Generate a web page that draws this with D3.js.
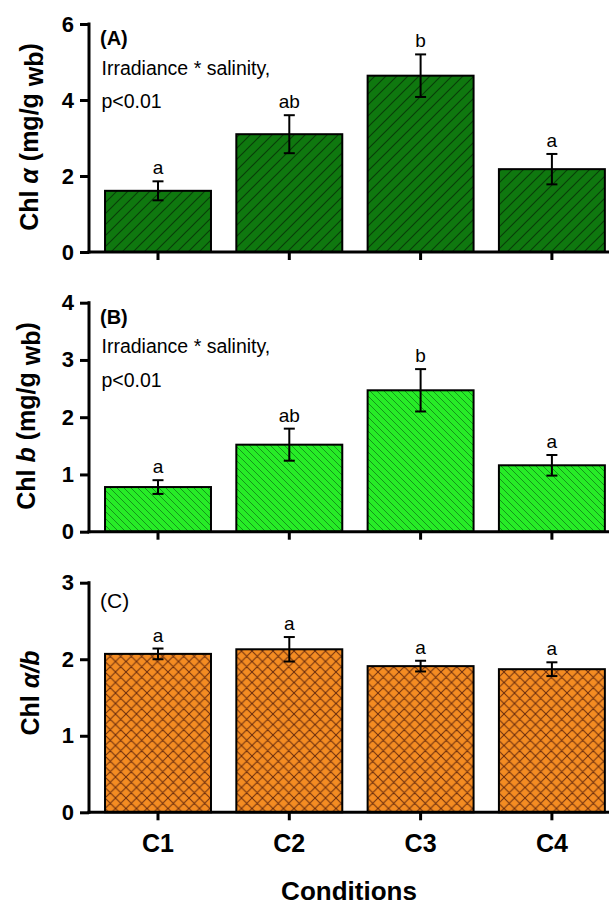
<!DOCTYPE html>
<html>
<head>
<meta charset="utf-8">
<script src="https://cdn.jsdelivr.net/npm/d3@7"></script>
<style>
  body { margin: 0; background: #fff; }
  svg { display: block; }
  text { font-family: Arial, "Liberation Sans", sans-serif; fill: #000; }
</style>
</head>
<body>
<div id="chart"></div>
<script>
var width = 609,
    height = 905;

// data
var categories = ["C1", "C2", "C3", "C4"];

var chlA = [1.61, 3.10, 4.64, 2.18];
var chlAErr = [0.25, 0.50, 0.56, 0.40];
var chlALetters = ["a", "ab", "b", "a"];

var chlB = [0.78, 1.52, 2.47, 1.16];
var chlBErr = [0.12, 0.28, 0.37, 0.18];
var chlBLetters = ["a", "ab", "b", "a"];

var chlRatio = [2.07, 2.13, 1.91, 1.87];
var chlRatioErr = [0.07, 0.16, 0.07, 0.09];
var chlRatioLetters = ["a", "a", "a", "a"];

var ticksA = [0, 2, 4, 6];
var ticksB = [0, 1, 2, 3, 4];
var ticksC = [0, 1, 2, 3];

var axisX = 89;

var panels = [
  { id: "A", vals: chlA, errs: chlAErr, letters: chlALetters, ticks: ticksA,
    top: 24, bottom: 252, fill: "url(#hatchA)", label: "(A)", bold: true, note: true,
    title: [["Chl ", ""], ["α", "italic"], [" (mg/g ", ""], ["wb", "sub"], [")", "up"]], titleX: 38, titleY: 137 },
  { id: "B", vals: chlB, errs: chlBErr, letters: chlBLetters, ticks: ticksB,
    top: 302.7, bottom: 531.7, fill: "url(#hatchB)", label: "(B)", bold: true, note: true,
    title: [["Chl ", ""], ["b", "italic"], [" (mg/g ", ""], ["wb", "sub"], [")", "up"]], titleX: 35, titleY: 416 },
  { id: "C", vals: chlRatio, errs: chlRatioErr, letters: chlRatioLetters, ticks: ticksC,
    top: 582.7, bottom: 812.3, fill: "url(#hatchC)", label: "(C)", bold: false, note: false,
    title: [["Chl ", ""], ["α/b", "italic"]], titleX: 39, titleY: 693 }
];

var svg = d3.select("#chart")
  .append("svg")
  .attr("width", width)
  .attr("height", height);

var defs = svg.append("defs");

function hatch(id, size, bg, fg, d, sw) {
  var p = defs.append("pattern")
    .attr("id", id)
    .attr("patternUnits", "userSpaceOnUse")
    .attr("width", size)
    .attr("height", size);
  p.append("rect").attr("width", size).attr("height", size).attr("fill", bg);
  p.append("path").attr("d", d).attr("stroke", fg).attr("stroke-width", sw).attr("fill", "none");
}

hatch("hatchA", 11, "#0f780f", "#073f07", "M-1,1 l2,-2 M0,11 l11,-11 M10,12 l2,-2", 1.2);
hatch("hatchB", 7, "#27ec27", "#14961a", "M-1,6 l2,2 M0,0 l7,7 M6,-1 l2,2", 1.0);
hatch("hatchC", 10.5, "#f48c22", "#6a2c0c",
  "M-1,1 l2,-2 M0,10.5 l10.5,-10.5 M9.5,11.5 l2,-2 M-1,9.5 l2,2 M0,0 l10.5,10.5 M9.5,-1 l2,2", 1.0);

var x = d3.scaleBand()
  .domain(categories)
  .range([92.35, 617.55])
  .paddingInner(0.193)
  .paddingOuter(0.0965);

panels.forEach(function(pn) {
  var y = d3.scaleLinear()
    .domain([d3.min(pn.ticks), d3.max(pn.ticks)])
    .range([pn.bottom, pn.top]);

  var g = svg.append("g").attr("class", "panel-" + pn.id);

  // bars
  g.selectAll(".bar")
    .data(pn.vals)
    .enter().append("rect")
      .attr("class", "bar")
      .attr("x", function(d, i) { return x(categories[i]); })
      .attr("y", function(d) { return y(d); })
      .attr("width", x.bandwidth())
      .attr("height", function(d) { return y(0) - y(d); })
      .attr("fill", pn.fill)
      .attr("stroke", "#000")
      .attr("stroke-width", 2);

  // error bars
  var eb = g.selectAll(".err")
    .data(pn.vals)
    .enter().append("g")
      .attr("class", "err")
      .attr("transform", function(d, i) { return "translate(" + (x(categories[i]) + x.bandwidth() / 2) + ",0)"; });

  eb.append("line")
    .attr("y1", function(d, i) { return y(d - pn.errs[i]); })
    .attr("y2", function(d, i) { return y(d + pn.errs[i]); });
  eb.append("line")
    .attr("x1", -5.5).attr("x2", 5.5)
    .attr("y1", function(d, i) { return y(d + pn.errs[i]); })
    .attr("y2", function(d, i) { return y(d + pn.errs[i]); });
  eb.append("line")
    .attr("x1", -5.5).attr("x2", 5.5)
    .attr("y1", function(d, i) { return y(d - pn.errs[i]); })
    .attr("y2", function(d, i) { return y(d - pn.errs[i]); });
  eb.selectAll("line").attr("stroke", "#000").attr("stroke-width", 2);

  eb.append("text")
    .attr("text-anchor", "middle")
    .attr("y", function(d, i) { return y(d + pn.errs[i]) - 7; })
    .style("font-size", "19px")
    .text(function(d, i) { return pn.letters[i]; });

  // y axis
  var yAxis = g.append("g")
    .attr("transform", "translate(" + axisX + ",0)")
    .call(d3.axisLeft(y).tickValues(pn.ticks).tickSize(9).tickSizeOuter(0).tickPadding(6).tickFormat(d3.format("d")));
  yAxis.select(".domain").remove();
  yAxis.selectAll(".tick line").attr("stroke", "#000").attr("stroke-width", 3);
  yAxis.selectAll(".tick text")
    .style("font-size", "22px")
    .style("font-weight", "bold")
    .attr("fill", "#000");
  g.append("line")
    .attr("x1", axisX).attr("x2", axisX)
    .attr("y1", y(d3.max(pn.ticks)) - 1.5).attr("y2", y(0) + 1.5)
    .attr("stroke", "#000").attr("stroke-width", 3);

  // x axis
  var xAxis = g.append("g")
    .attr("transform", "translate(0," + y(0) + ")")
    .call(d3.axisBottom(x).tickSize(8).tickSizeOuter(0));
  xAxis.select(".domain").remove();
  xAxis.selectAll(".tick line").attr("stroke", "#000").attr("stroke-width", 3);
  if (pn.id === "C") {
    xAxis.selectAll(".tick text")
      .attr("y", 39.5)
      .attr("dy", 0)
      .attr("fill", "#000")
      .style("font-size", "25px")
      .style("font-weight", "bold");
  } else {
    xAxis.selectAll(".tick text").remove();
  }
  g.append("line")
    .attr("x1", axisX - 1.5).attr("x2", width)
    .attr("y1", y(0)).attr("y2", y(0))
    .attr("stroke", "#000").attr("stroke-width", 3);

  // panel label and note
  g.append("text")
    .attr("x", 100)
    .attr("y", pn.top + (pn.bold ? 21 : 25))
    .style("font-size", pn.bold ? "20px" : "21px")
    .style("font-weight", pn.bold ? "bold" : "normal")
    .text(pn.label);

  if (pn.note) {
    g.append("text")
      .attr("x", 101.5)
      .attr("y", pn.top + 50.5)
      .style("font-size", "19.5px")
      .text("Irradiance * salinity,");
    g.append("text")
      .attr("x", 101.5)
      .attr("y", pn.top + 84)
      .style("font-size", "19.5px")
      .text("p<0.01");
  }

  // y title
  var t = g.append("text")
    .attr("transform", "translate(" + pn.titleX + "," + pn.titleY + ") rotate(-90)")
    .attr("text-anchor", "middle")
    .style("font-size", "25px")
    .style("font-weight", "bold");
  pn.title.forEach(function(part) {
    var s = t.append("tspan").text(part[0]);
    if (part[1] === "italic") s.style("font-style", "italic");
    if (part[1] === "sub") s.attr("dy", 5);
    if (part[1] === "up") s.attr("dy", -5);
  });
});

svg.append("text")
  .attr("x", (axisX + width) / 2)
  .attr("y", 900)
  .attr("text-anchor", "middle")
  .style("font-size", "26px")
  .style("font-weight", "bold")
  .text("Conditions");
</script>
</body>
</html>
